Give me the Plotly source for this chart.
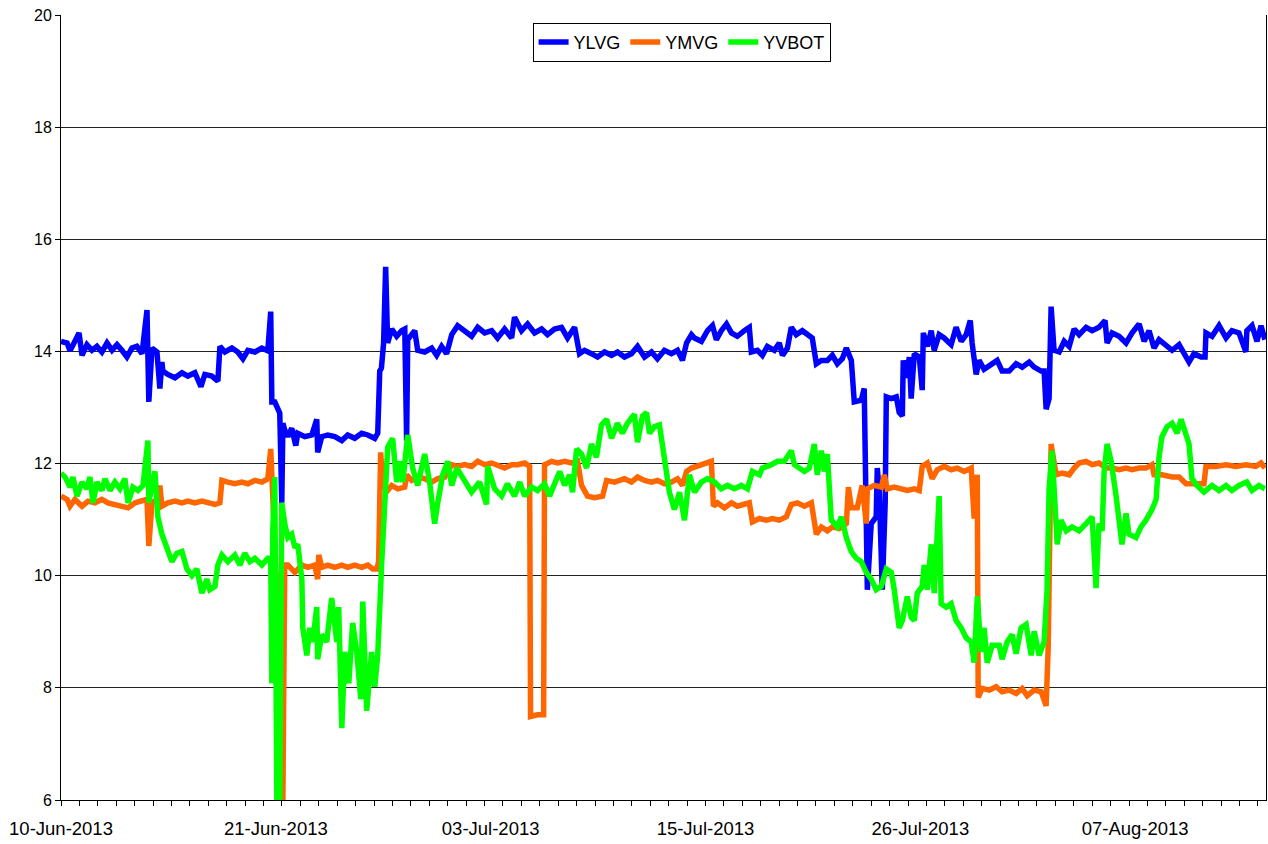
import pandas as pd
import plotly.graph_objects as go

START = "2013-06-10"

# ---- data (time in days since 10-Jun-2013 00:00) ----
ylvg_days = [0.00, 0.33, 0.49, 0.65, 0.98, 1.14, 1.41, 1.68, 1.95, 2.22, 2.50, 2.77, 3.04, 3.31, 3.58, 3.85,
             4.12, 4.40, 4.67, 4.77, 4.94, 5.21, 5.37, 5.48, 5.53, 5.80, 6.19, 6.57, 6.89, 7.27, 7.60, 7.81,
             8.19, 8.52, 8.63, 8.90, 9.28, 9.60, 9.88, 10.15, 10.53, 10.91, 11.23, 11.39, 11.45, 11.61, 11.88,
             11.99, 12.05, 12.15, 12.32, 12.53, 12.75, 12.86, 13.24, 13.62, 13.89, 13.94, 14.16, 14.49, 14.87,
             15.25, 15.57, 15.95, 16.33, 16.66, 17.04, 17.20, 17.31, 17.40, 17.52, 17.63, 17.74, 17.96, 18.23,
             18.50, 18.67, 18.77, 18.83, 19.21, 19.37, 19.75, 20.13, 20.40, 20.67, 20.94, 21.22, 21.54, 21.92,
             22.30, 22.63, 23.01, 23.39, 23.71, 24.09, 24.47, 24.63, 25.01, 25.34, 25.72, 26.10, 26.42, 26.80,
             27.18, 27.51, 27.89, 28.16, 28.43, 28.81, 29.14, 29.52, 29.90, 30.22, 30.60, 30.98, 31.31, 31.69,
             32.07, 32.39, 32.77, 33.15, 33.48, 33.75, 33.97, 34.24, 34.40, 34.78, 35.11, 35.38, 35.59, 35.86,
             36.14, 36.41, 36.73, 37.11, 37.38, 37.49, 37.82, 38.09, 38.36, 38.74, 39.01, 39.18, 39.45, 39.66,
             39.93, 40.26, 40.53, 40.80, 41.02, 41.29, 41.62, 41.89, 42.16, 42.43, 42.65, 42.92, 43.08, 43.46,
             43.62, 43.73, 43.79, 44.00, 44.27, 44.33, 44.44, 44.60, 44.76, 44.82, 45.09, 45.36, 45.52, 45.69,
             45.74, 45.90, 46.07, 46.17, 46.34, 46.61, 46.77, 46.83, 47.05, 47.26, 47.42, 47.69, 47.96, 48.34,
             48.61, 48.89, 49.16, 49.38, 49.48, 49.70, 49.86, 50.13, 50.57, 50.84, 51.11, 51.49, 51.87, 52.20,
             52.58, 52.85, 53.23, 53.39, 53.50, 53.66, 53.77, 53.93, 54.21, 54.48, 54.75, 55.02, 55.29, 55.67,
             56.00, 56.37, 56.70, 56.81, 57.08, 57.46, 57.84, 58.17, 58.55, 58.82, 59.09, 59.36, 59.63, 60.01,
             60.34, 60.72, 60.99, 61.26, 61.53, 61.91, 62.13, 62.18, 62.51, 62.89, 63.27, 63.59, 63.97, 64.35,
             64.40, 64.68, 64.95, 65.17, 65.38]
ylvg_vals = [14.18, 14.15, 14.01, 14.12, 14.33, 13.93, 14.12, 14.02, 14.09, 13.99, 14.15, 14.02, 14.12, 14.02, 13.90, 14.06,
             14.09, 13.96, 14.74, 13.10, 14.06, 13.99, 13.34, 13.81, 13.65, 13.59, 13.53, 13.62, 13.56, 13.62, 13.37, 13.59,
             13.56, 13.47, 14.09, 13.99, 14.06, 13.99, 13.87, 14.02, 13.99, 14.06, 14.01, 14.71, 13.10, 13.10, 12.90,
             11.30, 12.72, 12.60, 12.48, 12.63, 12.32, 12.54, 12.48, 12.51, 12.79, 12.20, 12.48, 12.51, 12.48,
             12.41, 12.51, 12.45, 12.54, 12.51, 12.45, 12.54, 13.65, 13.70, 14.15, 15.51, 14.15, 14.40, 14.27,
             14.37, 14.40, 12.41, 14.21, 14.37, 14.02, 13.99, 14.06, 13.93, 14.09, 13.96, 14.30, 14.46, 14.37,
             14.27, 14.43, 14.33, 14.37, 14.24, 14.40, 14.24, 14.61, 14.37, 14.49, 14.33, 14.40, 14.30, 14.40,
             14.43, 14.24, 14.43, 13.96, 14.02, 13.96, 13.90, 13.99, 13.93, 13.99, 13.90, 13.96, 14.09, 13.90,
             13.99, 13.87, 14.02, 13.96, 14.02, 13.84, 14.15, 14.30, 14.24, 14.18, 14.37, 14.46, 14.21, 14.37,
             14.49, 14.33, 14.27, 14.37, 14.43, 13.99, 14.02, 13.93, 14.09, 14.02, 14.15, 13.93, 14.06, 14.43,
             14.30, 14.37, 14.30, 14.24, 13.78, 13.84, 13.84, 13.93, 13.78, 13.87, 14.06, 13.84, 13.10, 13.13,
             13.34, 11.30, 9.75, 10.93, 11.05, 11.92, 11.49, 9.75, 11.30, 13.19, 13.16, 13.19, 12.91, 12.85,
             13.84, 13.53, 13.90, 13.16, 13.96, 13.90, 13.31, 14.33, 14.09, 14.37, 14.02, 14.30, 14.24, 14.12,
             14.43, 14.18, 14.30, 14.55, 14.15, 13.59, 13.84, 13.68, 13.78, 13.84, 13.65, 13.65, 13.78, 13.72,
             13.81, 13.72, 13.65, 13.65, 12.97, 13.16, 14.80, 14.02, 13.99, 14.18, 14.09, 14.40, 14.30, 14.43,
             14.37, 14.43, 14.55, 14.15, 14.33, 14.27, 14.15, 14.33, 14.49, 14.18, 14.37, 14.06, 14.21, 14.12,
             14.02, 14.12, 13.96, 13.81, 13.96, 13.90, 13.90, 14.33, 14.27, 14.46, 14.24, 14.37, 14.33, 13.99,
             14.37, 14.46, 14.18, 14.46, 14.21]

ymvg_days = [0.00, 0.33, 0.49, 0.76, 1.14, 1.47, 1.84, 2.22, 2.55, 2.93, 3.31, 3.64, 4.02, 4.40, 4.67, 4.77,
             4.94, 5.21, 5.37, 5.48, 5.80, 6.19, 6.57, 6.89, 7.27, 7.65, 7.98, 8.36, 8.63, 8.74, 9.06, 9.44,
             9.82, 10.15, 10.53, 10.91, 11.23, 11.39, 11.67, 12.05, 12.15, 12.32, 12.70, 13.08, 13.40, 13.78,
             13.94, 14.00, 14.16, 14.49, 14.87, 15.25, 15.57, 15.95, 16.33, 16.66, 16.93, 17.15, 17.25, 17.36,
             17.47, 17.74, 17.96, 18.29, 18.67, 18.77, 19.05, 19.37, 19.75, 20.13, 20.46, 20.84, 21.22, 21.54,
             21.92, 22.30, 22.63, 23.01, 23.39, 23.71, 24.09, 24.47, 24.80, 25.18, 25.45, 25.50, 25.88, 26.21,
             26.26, 26.64, 26.97, 27.35, 27.73, 28.05, 28.27, 28.59, 28.97, 29.41, 29.63, 30.06, 30.60, 30.98,
             31.31, 31.69, 32.07, 32.39, 32.77, 33.15, 33.48, 33.75, 33.97, 34.24, 34.56, 34.94, 35.32, 35.43,
             35.65, 36.03, 36.41, 36.73, 37.11, 37.38, 37.55, 37.93, 38.31, 38.63, 39.01, 39.39, 39.66, 39.99,
             40.37, 40.75, 41.02, 41.29, 41.62, 41.89, 42.27, 42.65, 42.76, 42.92, 43.24, 43.51, 43.73, 43.79,
             44.17, 44.55, 44.71, 44.87, 45.25, 45.63, 45.96, 46.34, 46.61, 46.77, 47.05, 47.31, 47.59, 47.96,
             48.34, 48.67, 49.05, 49.43, 49.59, 49.76, 49.81, 50.03, 50.41, 50.79, 51.11, 51.49, 51.87, 52.20,
             52.47, 52.85, 53.23, 53.50, 53.61, 53.77, 54.04, 54.37, 54.75, 55.02, 55.29, 55.67, 56.00, 56.37,
             56.76, 57.08, 57.46, 57.84, 58.17, 58.55, 58.92, 59.25, 59.36, 59.79, 60.34, 60.72, 61.10, 61.64,
             62.07, 62.18, 62.72, 63.27, 63.81, 64.35, 64.89, 65.17, 65.38]
ymvg_vals = [11.42, 11.36, 11.24, 11.36, 11.24, 11.33, 11.30, 11.36, 11.30, 11.27, 11.24, 11.21, 11.30, 11.33, 11.36, 10.53,
             11.30, 11.36, 11.61, 11.24, 11.30, 11.33, 11.30, 11.33, 11.30, 11.33, 11.30, 11.27, 11.30, 11.70, 11.67, 11.64,
             11.67, 11.64, 11.70, 11.67, 11.73, 12.26, 10.10, 6.00, 10.19, 10.19, 10.06, 10.19, 10.15, 10.19,
             9.94, 10.37, 10.15, 10.19, 10.15, 10.19, 10.15, 10.19, 10.15, 10.19, 10.12, 10.12, 10.25, 12.20,
             11.61, 11.52, 11.61, 11.55, 11.58, 11.80, 11.70, 11.76, 11.73, 11.67, 11.73, 11.76, 11.98, 11.95,
             11.98, 11.95, 12.04, 11.98, 12.01, 11.98, 11.92, 11.98, 11.98, 12.01, 11.95, 7.49, 7.52, 7.52,
             11.98, 12.04, 12.01, 12.04, 12.01, 12.04, 11.61, 11.42, 11.39, 11.42, 11.70, 11.67, 11.73, 11.67,
             11.76, 11.70, 11.67, 11.70, 11.64, 11.67, 11.73, 11.61, 11.86, 11.92, 11.95, 11.98, 12.04, 11.24,
             11.30, 11.21, 11.30, 11.24, 11.27, 11.30, 10.96, 11.02, 10.99, 11.02, 10.99, 11.05, 11.27, 11.30,
             11.24, 11.30, 10.74, 10.87, 10.80, 10.87, 10.84, 10.93, 11.58, 11.21, 11.21, 11.61, 10.93, 11.55,
             11.61, 11.58, 11.80, 11.55, 11.58, 11.55, 11.52, 11.55, 11.52, 11.95, 12.01, 11.73, 11.89, 11.95,
             11.89, 11.92, 11.86, 11.92, 11.02, 11.80, 7.83, 7.99, 7.96, 8.02, 7.93, 7.96, 7.90, 7.99,
             7.86, 7.96, 7.93, 7.68, 8.70, 12.35, 11.80, 11.83, 11.80, 11.92, 12.01, 12.04, 11.98, 12.01,
             11.92, 11.92, 11.89, 11.92, 11.89, 11.92, 11.92, 11.98, 11.80, 11.80, 11.76, 11.76, 11.64, 11.64,
             11.64, 11.95, 11.95, 11.98, 11.95, 11.98, 11.95, 12.01, 11.92]

yvbot_days = [0.00, 0.22, 0.49, 0.65, 0.87, 1.14, 1.41, 1.57, 1.74, 1.95, 2.22, 2.39, 2.66, 2.93, 3.20, 3.47,
              3.64, 3.91, 4.18, 4.45, 4.72, 4.77, 4.94, 5.10, 5.26, 5.48, 5.75, 6.02, 6.29, 6.57, 6.84, 7.11,
              7.38, 7.65, 7.92, 8.08, 8.36, 8.52, 8.74, 9.06, 9.44, 9.71, 9.98, 10.26, 10.53, 10.91, 11.23,
              11.39, 11.45, 11.50, 11.61, 11.72, 11.88, 11.99, 12.15, 12.32, 12.53, 12.70, 12.86, 13.08, 13.13,
              13.35, 13.51, 13.67, 13.89, 13.94, 14.16, 14.43, 14.70, 14.98, 15.08, 15.25, 15.41, 15.63, 15.84,
              16.06, 16.28, 16.39, 16.60, 16.87, 17.04, 17.20, 17.42, 17.58, 17.74, 18.01, 18.23, 18.39, 18.56,
              18.83, 19.10, 19.37, 19.75, 20.02, 20.29, 20.46, 20.73, 21.00, 21.22, 21.49, 21.92, 22.30, 22.73,
              23.11, 23.17, 23.55, 23.93, 24.25, 24.63, 24.91, 25.18, 25.56, 25.88, 26.26, 26.53, 26.80, 27.08,
              27.35, 27.62, 27.78, 28.00, 28.27, 28.54, 28.81, 29.08, 29.35, 29.63, 29.90, 30.22, 30.49, 30.76,
              31.14, 31.31, 31.58, 31.80, 31.96, 32.23, 32.50, 32.77, 33.04, 33.31, 33.59, 33.86, 34.13, 34.40,
              34.78, 35.11, 35.49, 35.86, 36.19, 36.57, 36.95, 37.28, 37.55, 37.93, 38.09, 38.58, 38.91, 39.28,
              39.66, 39.83, 40.10, 40.37, 40.64, 40.91, 41.07, 41.29, 41.45, 41.62, 41.83, 42.16, 42.38, 42.65,
              42.92, 43.19, 43.46, 43.73, 44.00, 44.27, 44.55, 44.82, 45.09, 45.25, 45.52, 45.69, 45.96, 46.17,
              46.34, 46.50, 46.77, 46.88, 47.05, 47.26, 47.42, 47.69, 47.80, 48.07, 48.34, 48.61, 48.89, 49.16,
              49.43, 49.59, 49.76, 49.97, 50.13, 50.30, 50.57, 50.95, 51.11, 51.38, 51.65, 51.87, 52.14, 52.41,
              52.69, 52.85, 53.12, 53.39, 53.55, 53.66, 53.82, 53.93, 54.10, 54.31, 54.59, 54.91, 55.29, 55.67,
              56.00, 56.21, 56.37, 56.54, 56.65, 56.81, 57.03, 57.30, 57.46, 57.62, 57.84, 58.00, 58.38, 58.65,
              58.92, 59.25, 59.47, 59.63, 59.79, 60.07, 60.34, 60.61, 60.83, 61.10, 61.26, 61.42, 61.69, 62.07,
              62.51, 62.89, 63.27, 63.59, 63.97, 64.40, 64.68, 65.06, 65.38]
yvbot_vals = [11.83, 11.76, 11.58, 11.76, 11.42, 11.67, 11.55, 11.76, 11.30, 11.67, 11.52, 11.73, 11.52, 11.67, 11.55, 11.73,
              11.30, 11.58, 11.52, 11.61, 12.41, 11.30, 11.61, 11.86, 11.05, 10.74, 10.50, 10.25, 10.40, 10.43, 10.12, 10.00,
              10.12, 9.69, 9.94, 9.75, 9.81, 10.19, 10.37, 10.25, 10.37, 10.19, 10.40, 10.25, 10.31, 10.19, 10.31,
              10.30, 8.08, 10.80, 11.76, 6.00, 6.00, 11.30, 10.93, 10.68, 10.74, 10.50, 10.56, 9.94, 9.07,
              8.58, 9.07, 8.82, 9.44, 8.51, 8.95, 8.82, 9.60, 8.82, 9.44, 7.28, 8.64, 8.08, 9.16,
              8.64, 7.80, 9.54, 7.59, 8.64, 8.02, 8.58, 10.25, 11.30, 12.29, 12.45, 11.67, 12.04, 11.67,
              12.51, 11.92, 11.61, 12.17, 11.67, 10.93, 11.30, 11.80, 12.04, 11.61, 11.92, 11.67, 11.49, 11.67,
              11.27, 11.95, 11.55, 11.42, 11.64, 11.42, 11.67, 11.42, 11.58, 11.52, 11.64, 11.42, 11.61, 11.86,
              11.61, 11.80, 11.49, 12.26, 12.17, 11.92, 12.35, 12.11, 12.69, 12.79, 12.45, 12.72, 12.54, 12.72,
              12.88, 12.38, 12.85, 12.91, 12.54, 12.66, 12.69, 12.04, 11.49, 11.18, 11.49, 10.99, 11.80, 11.49,
              11.67, 11.73, 11.67, 11.55, 11.61, 11.55, 11.61, 11.55, 11.86, 11.80, 11.92, 11.98, 12.04, 12.04,
              12.23, 11.98, 11.92, 11.86, 11.92, 12.35, 11.80, 12.23, 11.86, 12.17, 10.99, 10.87, 11.05, 10.68,
              10.43, 10.31, 10.25, 10.06, 9.94, 9.75, 9.81, 10.12, 10.06, 9.75, 9.07, 9.20, 9.63, 9.26,
              9.20, 9.69, 9.81, 10.19, 9.75, 10.56, 9.69, 11.42, 9.50, 9.44, 9.50, 9.20, 9.07, 8.89,
              8.82, 8.45, 9.63, 8.64, 9.07, 8.45, 8.76, 8.76, 8.51, 8.82, 8.95, 8.61, 9.07, 9.13,
              8.58, 9.01, 8.58, 8.82, 9.75, 11.55, 12.23, 11.42, 10.56, 10.99, 10.80, 10.87, 10.80, 10.93,
              11.05, 9.78, 10.93, 10.80, 11.86, 12.35, 12.04, 11.42, 10.93, 10.56, 11.11, 10.74, 10.68, 10.87,
              10.99, 11.18, 11.36, 12.11, 12.48, 12.66, 12.72, 12.54, 12.79, 12.54, 12.35, 11.73, 11.61, 11.49,
              11.61, 11.52, 11.61, 11.52, 11.61, 11.67, 11.52, 11.61, 11.55]

series_names = ["YLVG", "YMVG", "YVBOT"]
series_colors = ["#0000FF", "#FF6600", "#00FF00"]

tick_days = [0, 11 + 2 / 3, 23 + 1 / 3, 35, 46 + 2 / 3, 58 + 1 / 3]
tick_labels = ["10-Jun-2013", "21-Jun-2013", "03-Jul-2013", "15-Jul-2013", "26-Jul-2013", "07-Aug-2013"]
y_ticks = [6, 8, 10, 12, 14, 16, 18, 20]
x_end_days = 65.44

start = pd.Timestamp(START)


def to_time(days):
    return start + pd.to_timedelta(pd.Series(days, dtype=float), unit="D")


fig = go.Figure()
for name, color, d, v in zip(series_names, series_colors,
                             [ylvg_days, ymvg_days, yvbot_days],
                             [ylvg_vals, ymvg_vals, yvbot_vals]):
    fig.add_trace(go.Scatter(x=to_time(d), y=v, mode="lines", name=name,
                             line=dict(color=color, width=5.5)))

fig.update_layout(
    width=1268, height=844,
    margin=dict(l=61, r=2, t=15, b=44),
    paper_bgcolor="white", plot_bgcolor="white",
    font=dict(family="Liberation Sans, Arial, sans-serif", color="black", size=16),
    showlegend=True,
    legend=dict(orientation="h", x=0.515, y=0.99, xanchor="center", yanchor="top",
                bordercolor="black", borderwidth=1, bgcolor="white",
                font=dict(size=18), itemwidth=30, tracegroupgap=0),
)

fig.update_xaxes(
    type="date",
    range=[start, start + pd.Timedelta(days=x_end_days)],
    tickmode="array",
    tickvals=list(to_time(tick_days)),
    ticktext=tick_labels,
    ticks="",
    tickfont=dict(size=18.5),
    ticklabelstandoff=12,
    showgrid=False,
    showline=True, linecolor="black", linewidth=1,
    minor=dict(ticks="outside", ticklen=5, tickcolor="black", dtick=86400000,
               tick0=START, showgrid=False),
    zeroline=False,
)

fig.update_yaxes(
    range=[6, 20],
    tickvals=y_ticks,
    ticks="outside", ticklen=5, tickcolor="black",
    tickfont=dict(size=16),
    showgrid=True, gridcolor="#222222", gridwidth=1,
    showline=True, linecolor="black", linewidth=1, mirror=True,
    zeroline=False,
)

fig.write_html("out.html", config={"displayModeBar": False},
               post_script="document.body.style.margin='0';document.body.style.overflow='hidden';")
